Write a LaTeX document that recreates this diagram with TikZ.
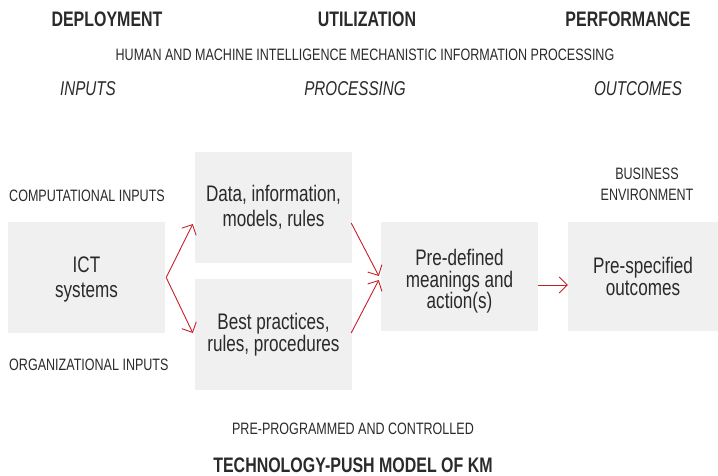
\documentclass[tikz,border=0pt]{standalone}
\usepackage{fontspec}
\setmainfont[FakeStretch=0.76]{Liberation Sans}
\usetikzlibrary{arrows.meta,calc}
\definecolor{boxgray}{HTML}{F0F0F0}
\definecolor{txt}{HTML}{2A2A2A}
\definecolor{arrowred}{HTML}{C8202A}
\begin{document}
\begin{tikzpicture}[x=1pt,y=-1pt,
  every node/.style={text=txt, inner sep=0pt},
  panel/.style={fill=boxgray, draw=none, align=center, font=\fontsize{22.5}{25.5}\selectfont},
  tight/.style={font=\fontsize{22.5}{21.5}\selectfont},
  boxtext/.style={align=center, font=\fontsize{22.5}{21.5}\selectfont},
  heading/.style={font=\fontsize{21}{24}\selectfont\bfseries},
  caption/.style={font=\fontsize{16.5}{21}\selectfont},
  stage/.style={font=\fontsize{20}{23}\selectfont\itshape},
  flow/.style={draw=arrowred, line width=0.9pt, -{Straight Barb[length=8pt,width=16pt,line width=0.9pt]}}
]
\useasboundingbox (0,0) rectangle (718,476);

% column headings
\node[heading] (dep)  at (107,19) {DEPLOYMENT};
\node[heading] (util) at (367,19) {UTILIZATION};
\node[heading] (perf) at (628,19) {PERFORMANCE};
\node[caption] (hm) at (365,55) {HUMAN AND MACHINE INTELLIGENCE MECHANISTIC INFORMATION PROCESSING};
\node[stage] (inp)  at (88,89)  {INPUTS};
\node[stage] (proc) at (355,89) {PROCESSING};
\node[stage] (outc) at (638,89) {OUTCOMES};

% side captions
\node[caption, anchor=west] (comp) at (9,196) {COMPUTATIONAL INPUTS};
\node[caption, anchor=west] (org)  at (9,365) {ORGANIZATIONAL INPUTS};
\node[caption, align=center] (biz) at (647,184.5) {BUSINESS\\ENVIRONMENT};

% boxes
\node[panel, minimum width=157pt, minimum height=111pt] (ict)  at (86.5,277.5) {};
\node[panel, minimum width=157pt, minimum height=111pt] (data) at (273.5,207.5) {Data, information,\\models, rules};
\node[panel, tight, minimum width=157pt, minimum height=111pt] (best) at (273.5,334.5) {Best practices,\\rules, procedures};
\node[panel, minimum width=157pt, minimum height=109pt] (pre)  at (459.5,276.5) {};
\node[panel, tight, minimum width=150pt, minimum height=109pt] (spec) at (643,276.5) {Pre-specified\\outcomes};

% box texts set slightly below centre
\node[panel, fill=none] (ict-text) at ($(ict)+(0,2)$) {ICT\\systems};
\node[boxtext] (pre-text) at ($(pre)+(0,5)$) {Pre-defined\\meanings and\\action(s)};

% connectors
\coordinate (fork) at ($(ict.east)+(1,0)$);
\draw[flow] (fork) -- ($(data.west)+(-2,16.5)$);
\draw[flow] (fork) -- ($(best.west)+(-2,-1.5)$);
\draw[flow] ($(data.east)+(-1,15.5)$) -- ($(pre.west)+(-2,-0.5)$);
\draw[flow] ($(best.east)+(-1,-1.5)$) -- ($(pre.west)+(-2,3.5)$);
\draw[flow] ($(pre.east)+(0,8.5)$) -- ($(spec.west)+(0,8.5)$);

% bottom captions
\node[caption] (ctrl) at (353,429) {PRE-PROGRAMMED AND CONTROLLED};
\node[heading] (title) at (353,465) {TECHNOLOGY-PUSH MODEL OF KM};
\end{tikzpicture}
\end{document}
